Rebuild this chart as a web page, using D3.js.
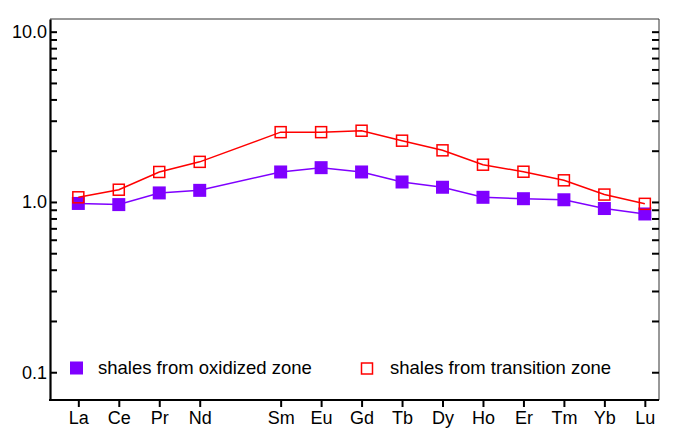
<!DOCTYPE html>
<html>
<head>
<meta charset="utf-8">
<style>
  body { margin: 0; background: #fff; }
  svg { display: block; font-family: "Liberation Sans", Arial, sans-serif; }
</style>
</head>
<body>
<svg width="673" height="429"></svg>
<script src="https://cdn.jsdelivr.net/npm/d3@7/dist/d3.min.js"></script>
<script>
// REE order (Pm keeps its slot but has no data / label)
var reeOrder = ["La", "Ce", "Pr", "Nd", "Pm", "Sm", "Eu", "Gd", "Tb", "Dy", "Ho", "Er", "Tm", "Yb", "Lu"];
var elements = ["La", "Ce", "Pr", "Nd", "Sm", "Eu", "Gd", "Tb", "Dy", "Ho", "Er", "Tm", "Yb", "Lu"];

var oxidized   = [0.98, 0.965, 1.13, 1.17, 1.50, 1.59, 1.50, 1.31, 1.22, 1.065, 1.045, 1.03, 0.915, 0.85];
var transition = [1.065, 1.18, 1.50, 1.72, 2.57, 2.57, 2.62, 2.29, 2.01, 1.655, 1.505, 1.34, 1.105, 0.975];

var majorTicks = [0.1, 1, 10];
var minorTicks = [0.2, 0.3, 0.4, 0.5, 0.6, 0.7, 0.8, 0.9, 2, 3, 4, 5, 6, 7, 8, 9];
var majorLabels = {"0.1": "0.1", "1": "1.0", "10": "10.0"};

var seriesNames = ["shales from oxidized zone", "shales from transition zone"];
var seriesColors = ["#7f00ff", "#ff0000"];

var svg = d3.select("svg"),
    plotLeft = 50, plotRight = 659, plotTop = 19, plotBottom = 400;

var x = d3.scaleLinear().domain([-0.7, 14.35]).range([plotLeft, plotRight]);
var y = d3.scaleLog().domain([0.0687, 11.87]).range([plotBottom, plotTop]);

function pos(el) { return reeOrder.indexOf(el); }

// top / right frame
svg.append("line").attr("x1", plotLeft).attr("x2", plotRight).attr("y1", plotTop).attr("y2", plotTop)
    .attr("stroke", "#333").attr("stroke-width", 1);
svg.append("line").attr("x1", plotRight).attr("x2", plotRight).attr("y1", plotTop).attr("y2", plotBottom)
    .attr("stroke", "#333").attr("stroke-width", 1);

var allTicks = minorTicks.concat(majorTicks);

// left axis, ticks pointing inward
var yAxis = svg.append("g")
    .attr("transform", "translate(" + plotLeft + ",0)")
    .call(d3.axisLeft(y).tickValues(allTicks).tickSizeInner(-7).tickSizeOuter(0).tickPadding(3)
        .tickFormat(d => majorLabels[String(d)] || ""));
yAxis.select(".domain").attr("stroke", "#000").attr("stroke-width", 2.2);
yAxis.selectAll(".tick line").attr("stroke", "#000").attr("stroke-width", 2);
yAxis.selectAll("text").attr("font-size", 18).attr("fill", "#000").attr("font-family", null);

// right ticks
var yAxisR = svg.append("g")
    .attr("transform", "translate(" + plotRight + ",0)")
    .call(d3.axisRight(y).tickValues(allTicks).tickSizeInner(-7).tickSizeOuter(0).tickFormat(""));
yAxisR.select(".domain").remove();
yAxisR.selectAll(".tick line").attr("stroke", "#000").attr("stroke-width", 2);

// bottom axis
var xAxis = svg.append("g")
    .attr("transform", "translate(0," + plotBottom + ")")
    .call(d3.axisBottom(x).tickValues(elements.map(pos)).tickSizeInner(7).tickSizeOuter(0).tickPadding(4)
        .tickFormat(d => reeOrder[d]));
xAxis.select(".domain").attr("stroke", "#000").attr("stroke-width", 2.2)
    .attr("d", "M" + (plotLeft - 1) + ",0H" + plotRight);
xAxis.selectAll(".tick line").attr("stroke", "#000").attr("stroke-width", 2);
xAxis.selectAll("text").attr("font-size", 18).attr("fill", "#000").attr("font-family", null);

var line = d3.line()
    .x((d, i) => x(pos(elements[i])))
    .y(d => y(d));

// oxidized zone: filled squares
svg.append("path").datum(oxidized)
    .attr("fill", "none").attr("stroke", seriesColors[0]).attr("stroke-width", 1.5)
    .attr("d", line);
svg.append("g").selectAll("rect").data(oxidized).join("rect")
    .attr("x", (d, i) => x(pos(elements[i])) - 6.5)
    .attr("y", d => y(d) - 6.5)
    .attr("width", 13).attr("height", 13)
    .attr("fill", seriesColors[0]);

// transition zone: open squares
svg.append("path").datum(transition)
    .attr("fill", "none").attr("stroke", seriesColors[1]).attr("stroke-width", 1.5)
    .attr("d", line);
svg.append("g").selectAll("rect").data(transition).join("rect")
    .attr("x", (d, i) => x(pos(elements[i])) - 5.5)
    .attr("y", d => y(d) - 5.5)
    .attr("width", 11).attr("height", 11)
    .attr("fill", "none").attr("stroke", seriesColors[1]).attr("stroke-width", 1.5);

// legend
var legend = svg.append("g");
legend.append("rect").attr("x", 70).attr("y", 361.5).attr("width", 13).attr("height", 13)
    .attr("fill", seriesColors[0]);
legend.append("text").attr("x", 98).attr("y", 374).attr("font-size", 18.5).text(seriesNames[0]);
legend.append("rect").attr("x", 361.5).attr("y", 363).attr("width", 11).attr("height", 11)
    .attr("fill", "none").attr("stroke", seriesColors[1]).attr("stroke-width", 1.5);
legend.append("text").attr("x", 390).attr("y", 374).attr("font-size", 18.5).text(seriesNames[1]);
</script>
</body>
</html>
